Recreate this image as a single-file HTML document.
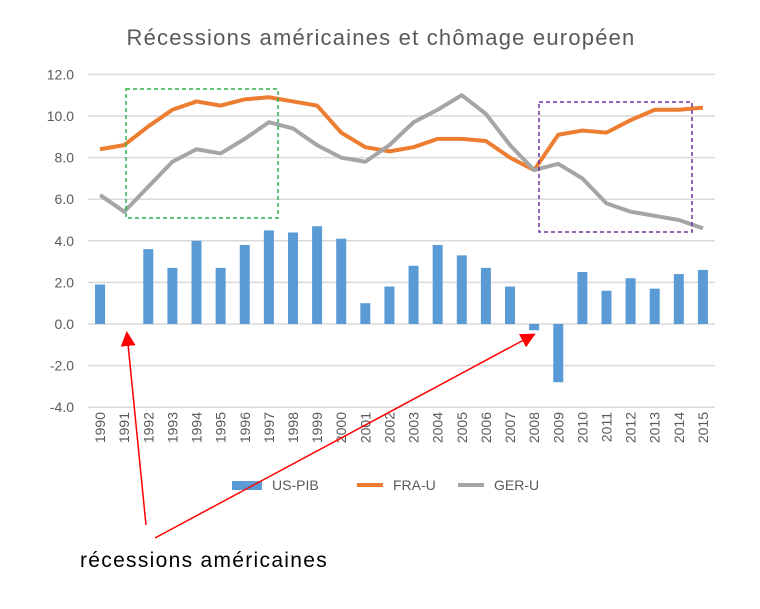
<!DOCTYPE html>
<html><head><meta charset="utf-8"><style>
body{margin:0;background:#fff;}
svg{display:block;font-family:"Liberation Sans",sans-serif;}
</style></head><body>
<svg id="c" width="760" height="609">
<text x="381" y="45" text-anchor="middle" font-size="22" letter-spacing="1.2" fill="#595959">Récessions américaines et chômage européen</text>
<g id="grid"></g><g id="bars"></g><g id="lines"></g><g id="xl"></g>
<rect x="126" y="89" width="152" height="129" fill="none" stroke="#2db34a" stroke-width="1.5" stroke-dasharray="4,3"/>
<rect x="539" y="102" width="153" height="130" fill="none" stroke="#7030a0" stroke-width="1.5" stroke-dasharray="4,3"/>
<g>
<rect x="232" y="481" width="30" height="9" fill="#5b9bd5"/>
<text x="272" y="490" font-size="14" fill="#595959">US-PIB</text>
<line x1="357" y1="485" x2="383" y2="485" stroke="#ed7d31" stroke-width="4"/>
<text x="393" y="490" font-size="14" fill="#595959">FRA-U</text>
<line x1="458" y1="485" x2="484" y2="485" stroke="#a5a5a5" stroke-width="4"/>
<text x="494" y="490" font-size="14" fill="#595959">GER-U</text>
</g>
<defs><marker id="ah" markerWidth="10" markerHeight="10" refX="8" refY="5" orient="auto"><path d="M0,0L10,5L0,10z" fill="#ff0000"/></marker></defs>
<line x1="146" y1="525" x2="127" y2="334" stroke="#ff0000" stroke-width="1.5" marker-end="url(#ah)"/>
<line x1="155" y1="538" x2="533" y2="335" stroke="#ff0000" stroke-width="1.5" marker-end="url(#ah)"/>
<text x="80" y="567" font-size="21" letter-spacing="1.3" fill="#000">récessions américaines</text>
</svg>
<script>
const years=[1990,1991,1992,1993,1994,1995,1996,1997,1998,1999,2000,2001,2002,2003,2004,2005,2006,2007,2008,2009,2010,2011,2012,2013,2014,2015];
const usPib=[1.9,0,3.6,2.7,4.0,2.7,3.8,4.5,4.4,4.7,4.1,1.0,1.8,2.8,3.8,3.3,2.7,1.8,-0.3,-2.8,2.5,1.6,2.2,1.7,2.4,2.6];
const fraU=[8.4,8.6,9.5,10.3,10.7,10.5,10.8,10.9,10.7,10.5,9.2,8.5,8.3,8.5,8.9,8.9,8.8,8.0,7.4,9.1,9.3,9.2,9.8,10.3,10.3,10.4];
const gerU=[6.2,5.4,6.6,7.8,8.4,8.2,8.9,9.7,9.4,8.6,8.0,7.8,8.6,9.7,10.3,11.0,10.1,8.6,7.4,7.7,7.0,5.8,5.4,5.2,5.0,4.6];
const yTicks=[-4,-2,0,2,4,6,8,10,12];
const NS="http://www.w3.org/2000/svg";
const x0=88,x1=715,step=(x1-x0)/years.length;
const X=i=>x0+step*(i+0.5);
const Y=v=>324-v*20.8;
function mk(t,a,p){const e=document.createElementNS(NS,t);for(const k in a)e.setAttribute(k,a[k]);document.getElementById(p).appendChild(e);return e;}
yTicks.forEach(t=>{
 const l=mk('line',{x1:x0,x2:x1,y1:Y(t),y2:Y(t),stroke:'#d9d9d9','stroke-width':1.5},'grid');
 
 
 const tx=mk('text',{x:74,y:Y(t)+5,'text-anchor':'end','font-size':14,fill:'#595959'},'grid');
 tx.textContent=t.toFixed(1);
 
 
});
usPib.forEach((v,i)=>{
 const b=mk('rect',{x:X(i)-5,width:10,y:Math.min(Y(v),Y(0)),height:Math.abs(Y(v)-Y(0)),fill:'#5b9bd5'},'bars');
 
 
});
[[fraU,'#ed7d31','line-fra-u'],[gerU,'#a5a5a5','line-ger-u']].forEach(([d,c,n])=>{
 const p=mk('polyline',{points:d.map((v,i)=>X(i)+','+Y(v)).join(' '),fill:'none',stroke:c,'stroke-width':4,'stroke-linejoin':'round'},'lines');
 
 
});
years.forEach((y,i)=>{
 const t=mk('text',{x:0,y:0,'text-anchor':'end','font-size':14,fill:'#595959',transform:`translate(${X(i)+5},412) rotate(-90)`},'xl');
 t.textContent=y;
 
 
});
</script>
</body></html>
